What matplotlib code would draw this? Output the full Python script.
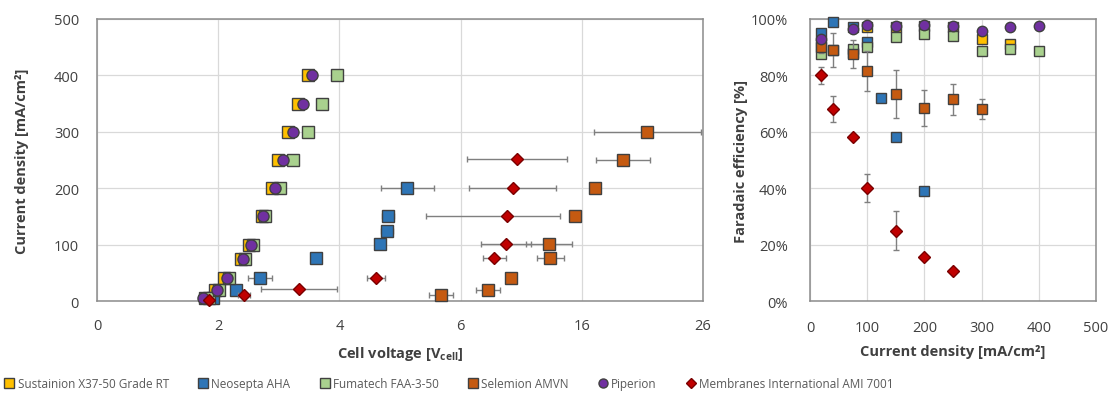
import numpy as np
import matplotlib
matplotlib.use("Agg")
import matplotlib.pyplot as plt
from matplotlib.lines import Line2D
from matplotlib.ticker import FuncFormatter

plt.rcParams["font.family"] = ["Open Sans", "DejaVu Sans"]
plt.rcParams["mathtext.fontset"] = "custom"
plt.rcParams["mathtext.bf"] = "Open Sans:bold"
plt.rcParams["mathtext.rm"] = "Open Sans"

# ---- left panel: polarisation curves (cell voltage vs current density) ----
sus_v = [1.78, 1.95, 2.10, 2.38, 2.50, 2.72, 2.89, 2.99, 3.15, 3.32, 3.48]
sus_j = [5, 20, 40, 75, 100, 150, 200, 250, 300, 350, 400]

neo_v = [1.92, 2.29, 2.69, 3.61, 4.67, 4.78, 4.80, 5.12]
neo_j = [5, 19, 41, 76, 101, 124, 151, 200]
neo_err = [0.05, 0.08, 0.2, 0.05, 0.08, 0.1, 0.1, 0.44]

fum_v = [1.85, 2.02, 2.17, 2.44, 2.58, 2.78, 3.02, 3.24, 3.48, 3.71, 3.96]
fum_j = [5, 20, 40, 75, 100, 150, 200, 250, 300, 350, 400]

sel_v = [5.68, 8.26, 10.2, 13.4, 13.3, 15.4, 17.1, 19.4, 21.4]
sel_j = [10, 20, 41, 76, 101, 151, 200, 250, 300]
sel_err = [0.2, 1.0, 0.0, 1.1, 1.9, 0.0, 0.0, 2.2, 4.4]

pip_v = [1.75, 1.98, 2.14, 2.41, 2.54, 2.74, 2.94, 3.07, 3.23, 3.40, 3.55]
pip_j = [5, 20, 40, 75, 100, 150, 200, 250, 300, 350, 400]

ami_v = [1.85, 2.42, 3.33, 4.60, 8.76, 9.75, 9.83, 10.3, 10.65]
ami_j = [2, 11, 21, 41, 76, 101, 151, 200, 252]
ami_err = [0.05, 0.1, 0.63, 0.15, 0.95, 2.1, 4.4, 3.6, 4.1]

# ---- right panel: faradaic efficiency vs current density ----
r_sus_j = [20, 40, 75, 100, 150, 200, 250, 300, 350]
r_sus_fe = [91, 89, 88, 97, 97, 97.5, 97, 93, 91]

r_neo_j = [20, 40, 75, 100, 125, 150, 200]
r_neo_fe = [95, 99, 97, 92, 72, 58, 39]

r_fum_j = [20, 75, 100, 150, 200, 250, 300, 350, 400]
r_fum_fe = [87.5, 89.5, 90, 93.5, 94.7, 94, 88.6, 89.5, 88.8]

r_sel_j = [20, 40, 75, 100, 150, 200, 250, 300]
r_sel_fe = [90, 89, 87.5, 81.5, 73.5, 68.5, 71.5, 68]
r_sel_err = [2, 6, 5, 7, 8.5, 6.5, 5.5, 3.5]

r_pip_j = [20, 75, 100, 150, 200, 250, 300, 350, 400]
r_pip_fe = [93, 96.5, 98, 97.6, 98, 97.6, 95.9, 97, 97.6]

r_ami_j = [20, 40, 75, 100, 150, 200, 250]
r_ami_fe = [80, 68, 58, 40, 25, 15.5, 10.5]
r_ami_err = [3, 4.6, 0, 5, 6.8, 0, 0]

names = ["Sustainion X37-50 Grade RT", "Neosepta AHA", "Fumatech FAA-3-50",
         "Selemion AMVN", "Piperion", "Membranes International AMI 7001"]
colors = ["#FFC000", "#2E75B6", "#A9D18E", "#C55A11", "#7030A0", "#C00000"]
markers = ["s", "s", "s", "s", "o", "D"]
edges = ["#404040", "#404040", "#404040", "#404040", "#404040", "#7A0000"]
sizes = [8, 8, 8, 8, 8, 6.5]

grid_c = "#D9D9D9"
spine_c = "#8C8C8C"
err_c = "#7F7F7F"
text_c = "#404040"


def fwd(v):
    v = np.asarray(v, dtype=float)
    return np.where(v <= 6, v, 6 + (v - 6) / 5)


def inv(t):
    t = np.asarray(t, dtype=float)
    return np.where(t <= 6, t, 6 + (t - 6) * 5)


def style_axes(ax):
    ax.set_axisbelow(True)
    ax.grid(True, color=grid_c, linewidth=0.9)
    for s in ax.spines.values():
        s.set_color(spine_c)
        s.set_linewidth(1.1)
    ax.tick_params(length=0, labelsize=10.5, labelcolor=text_c)


fig = plt.figure(figsize=(11.1, 4.14), dpi=100)
ax1 = fig.add_axes([0.0874, 0.2705, 0.5459, 0.6812])
ax2 = fig.add_axes([0.7297, 0.2705, 0.2577, 0.6812])

left_series = [
    (sus_v, sus_j, None),
    (neo_v, neo_j, neo_err),
    (fum_v, fum_j, None),
    (sel_v, sel_j, sel_err),
    (pip_v, pip_j, None),
    (ami_v, ami_j, ami_err),
]
ax1.set_xscale("function", functions=(fwd, inv))
for i, (v, j, err) in enumerate(left_series):
    ax1.errorbar(v, j, xerr=err, fmt=markers[i], color=colors[i],
                 markeredgecolor=edges[i], markeredgewidth=1.0,
                 markersize=sizes[i], ecolor=err_c, elinewidth=1.0,
                 capsize=2, capthick=1.0, clip_on=False, zorder=3 + i)
ax1.set_xlim(0, 26)
ax1.set_ylim(0, 500)
ax1.set_xticks([0, 2, 4, 6, 16, 26])
ax1.set_xticklabels(["0", "2", "4", "6", "16", "26"])
ax1.set_yticks([0, 100, 200, 300, 400, 500])
style_axes(ax1)
ax1.tick_params(axis="x", pad=12)
ax1.tick_params(axis="y", pad=13)
ax1.set_xlabel(r"Cell voltage [$\mathbf{V_{cell}}$]", fontsize=10.5,
               fontweight="bold", color=text_c, labelpad=8)
ax1.set_ylabel("Current density [mA/cm²]", fontsize=10.5,
               fontweight="bold", color=text_c, labelpad=18)

right_series = [
    (r_sus_j, r_sus_fe, None),
    (r_neo_j, r_neo_fe, None),
    (r_fum_j, r_fum_fe, None),
    (r_sel_j, r_sel_fe, r_sel_err),
    (r_pip_j, r_pip_fe, None),
    (r_ami_j, r_ami_fe, r_ami_err),
]
for i, (j, fe, err) in enumerate(right_series):
    ax2.errorbar(j, fe, yerr=err, fmt=markers[i], color=colors[i],
                 markeredgecolor=edges[i], markeredgewidth=1.0,
                 markersize=sizes[i] - 0.5, ecolor=err_c, elinewidth=1.0,
                 capsize=2, capthick=1.0, clip_on=False, zorder=3 + i)
ax2.set_xlim(0, 500)
ax2.set_ylim(0, 100)
ax2.set_xticks([0, 100, 200, 300, 400, 500])
ax2.set_yticks([0, 20, 40, 60, 80, 100])
ax2.yaxis.set_major_formatter(FuncFormatter(lambda y, _: f"{y:.0f}%"))
style_axes(ax2)
ax2.tick_params(axis="x", pad=14)
ax2.tick_params(axis="y", pad=16)
ax2.set_xlabel("Current density [mA/cm²]", fontsize=10.5,
               fontweight="bold", color=text_c, labelpad=6)
ax2.set_ylabel("Faradaic efficiency [%]", fontsize=10.5,
               fontweight="bold", color=text_c, labelpad=2)

handles = [
    Line2D([], [], linestyle="none", marker=markers[i], color=colors[i],
           markeredgecolor=edges[i], markersize=6.5 if i < 5 else 5)
    for i in range(len(names))
]
fig.legend(handles, names, loc="lower left", bbox_to_anchor=(0.0, 0.045),
           ncol=6, frameon=False, fontsize=8.5, labelcolor="#595959",
           handlelength=0.8, handletextpad=0.3, columnspacing=2.5,
           borderaxespad=0)

fig.savefig("out.png", dpi=100)
